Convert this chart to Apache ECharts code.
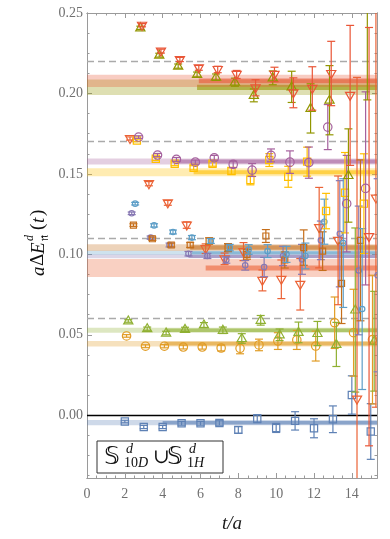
<!DOCTYPE html>
<html>
<head>
<meta charset="utf-8">
<script src="https://cdn.jsdelivr.net/npm/echarts@6/dist/echarts.min.js"></script>
<style>
  html, body { margin: 0; padding: 0; background: #fff; }
  #chart { width: 390px; height: 539px; }
</style>
</head>
<body>
<div id="chart"></div>
<script>
// time slices t/a
const tSlices = [2, 3, 4, 5, 6, 7, 8, 9, 10, 11, 12, 13, 14, 15];

// effective energies per level (null = not shown)
const val1  = [-0.0039, -0.0073, -0.0073, -0.0050, -0.0050, -0.0048, -0.0091, -0.0021, -0.0079, -0.0035, -0.0081, -0.0025, 0.0126, -0.0101];
const err1  = [0.0008, 0.0010, 0.0010, 0.0012, 0.0012, 0.0014, 0.0020, 0.0025, 0.0028, 0.0057, 0.0059, 0.0083, 0.0119, 0.0173];
const val2  = [0.0493, 0.0429, 0.0429, 0.0424, 0.0424, 0.0418, 0.0416, 0.0437, 0.0461, 0.0468, 0.0430, 0.0575, 0.0513, 0.0470];
const err2  = [0.0008, 0.0009, 0.0010, 0.0012, 0.0013, 0.0018, 0.0034, 0.0036, 0.0052, 0.0059, 0.0093, 0.0160, 0.0270, 0.0400];
const val3  = [0.0586, 0.0538, 0.0511, 0.0534, 0.0561, 0.0528, 0.0477, 0.0590, 0.0500, 0.0515, 0.0508, 0.0440, 0.0654, 0.0460];
const err3  = [0.0008, 0.0010, 0.0011, 0.0013, 0.0015, 0.0020, 0.0030, 0.0030, 0.0036, 0.0064, 0.0075, 0.0137, 0.0510, 0.0310];
const val4  = [0.1720, 0.1439, 0.1320, 0.1182, 0.1035, 0.0972, 0.1017, 0.0838, 0.0845, 0.0814, 0.1166, 0.1087, 0.0100, 0.1350];
const err4  = [0.0010, 0.0013, 0.0015, 0.0020, 0.0030, 0.0036, 0.0056, 0.0065, 0.0120, 0.0160, 0.0250, 0.0400, 0.2000, 0.1300];
const val5  = [0.1255, 0.1104, 0.1058, 0.1004, 0.0990, 0.0965, 0.0932, 0.0921, 0.0990, 0.0969, 0.1087, 0.1128, 0.0900, 0.0870];
const err5  = [0.0008, 0.0010, 0.0012, 0.0014, 0.0016, 0.0020, 0.0030, 0.0060, 0.0060, 0.0093, 0.0120, 0.0330, 0.0400, 0.0600];
const val6  = [0.1182, 0.1097, 0.1058, 0.1058, 0.1083, 0.1042, 0.1000, 0.1114, 0.0965, 0.1042, 0.1020, 0.0820, 0.1087, null];
const err6  = [0.0008, 0.0010, 0.0012, 0.0015, 0.0020, 0.0025, 0.0030, 0.0040, 0.0050, 0.0110, 0.0120, 0.0250, 0.0500, null];
const val7  = [0.1315, 0.1180, 0.1139, 0.1104, 0.1083, 0.1042, 0.1030, 0.1020, 0.1000, 0.0990, 0.1203, 0.1070, 0.0660, null];
const err7  = [0.0008, 0.0010, 0.0012, 0.0013, 0.0015, 0.0020, 0.0030, 0.0040, 0.0050, 0.0080, 0.0140, 0.0400, 0.0500, null];
const val8  = [0.1708, 0.1594, 0.1563, 0.1538, 0.1563, 0.1518, 0.1462, 0.1586, 0.1482, 0.1576, 0.1269, 0.1383, 0.1315, null];
const err8  = [0.0008, 0.0010, 0.0012, 0.0013, 0.0015, 0.0020, 0.0030, 0.0040, 0.0065, 0.0090, 0.0110, 0.0250, 0.0310, null];
const val9  = [0.1729, 0.1617, 0.1590, 0.1573, 0.1600, 0.1559, 0.1524, 0.1615, 0.1573, 0.1570, 0.1791, 0.1315, 0.1410, null];
const err9  = [0.0008, 0.0010, 0.0012, 0.0013, 0.0015, 0.0020, 0.0040, 0.0040, 0.0070, 0.0097, 0.0140, 0.0300, 0.0600, null];
const val10 = [0.2408, 0.2238, 0.2170, 0.2118, 0.2101, 0.2070, 0.1988, 0.2097, 0.2041, 0.1907, 0.1958, 0.1490, 0.2700, null];
const err10 = [0.0010, 0.0012, 0.0013, 0.0015, 0.0020, 0.0025, 0.0040, 0.0043, 0.0097, 0.0153, 0.0215, 0.0290, 0.0740, null];
const val11 = [0.2424, 0.2263, 0.2211, 0.2159, 0.2149, 0.2118, 0.2035, 0.2118, 0.2004, 0.2031, 0.2124, 0.1988, 0.1110, null];
const err11 = [0.0010, 0.0012, 0.0013, 0.0015, 0.0020, 0.0025, 0.0050, 0.0045, 0.0093, 0.0135, 0.0200, 0.0435, 0.1300, null];

// fit results: band centre, half width of the light band, half width of the dark band,
// and first time slice of the fit window
const bandMid  = [-0.0046, 0.0445, 0.0528, 0.0915, 0.0988, 0.1042, 0.1010, 0.1510, 0.1577, 0.2038, 0.2078];
const bandErr  = [0.0016, 0.0017, 0.0016, 0.0056, 0.0013, 0.0021, 0.0012, 0.0025, 0.0018, 0.0048, 0.0038];
const fitErr   = [0.0011, 0.0012, 0.0011, 0.0016, 0.0010, 0.0014, 0.0009, 0.0012, 0.0013, 0.0016, 0.0015];
const fitStart = [4, 4, 4, 6, 5, 5, 5, 5, 4, 5, 5];

// non-interacting thresholds (dashed)
const thresholds = [0.0561, 0.1118, 0.1658, 0.2191];

// tick labels
const xTickLabels = [0, 2, 4, 6, 8, 10, 12, 14];
const yTickLabels = [0, 0.05, 0.10, 0.15, 0.20, 0.25];

const values = [val1, val2, val3, val4, val5, val6, val7, val8, val9, val10, val11];
const errors = [err1, err2, err3, err4, err5, err6, err7, err8, err9, err10, err11];

const COLORS = ['#5E81B5', '#E19C24', '#8FB032', '#EB6235', '#8778B3', '#C56E1A',
                '#5D9EC7', '#FFBF00', '#A5609D', '#929600', '#E95536'];
const SHAPES = ['square', 'circle', 'up', 'down', 'dot', 'smallsquare', 'dot', 'square', 'circle', 'up', 'down'];
const X_SHIFT = 0.091;   // horizontal shift between levels
const X_MAX = 15.33, Y_MIN = -0.039, Y_MAX = 0.25;
const AXIS_GRAY = '#9a9a9a';
const SERIF = '"Liberation Serif", "DejaVu Serif", serif';

// minor ticks: every quarter of a major interval
function minorTicks(step, from, to) {
    const out = [];
    for (let v = from; v <= to + 1e-9; v += step / 4) out.push(Math.round(v * 1e5) / 1e5);
    return out;
}
const xMinor = minorTicks(2, 0, X_MAX);
const yMinor = minorTicks(0.05, -0.0375, Y_MAX);

function makeAxis(dim, position, ticks, len, withLabels) {
    const isX = dim === 'x';
    return {
        type: 'value',
        position: position,
        offset: 0,
        min: isX ? 0 : Y_MIN,
        max: isX ? X_MAX : Y_MAX,
        splitLine: { show: false },
        axisLine: { show: true, onZero: false, lineStyle: { color: AXIS_GRAY, width: 1 } },
        axisTick: { show: true, inside: true, length: len, customValues: ticks,
                    lineStyle: { color: AXIS_GRAY, width: 1 } },
        axisLabel: withLabels ? {
            show: true,
            customValues: ticks,
            margin: isX ? 9 : 4,
            color: '#707070',
            fontFamily: SERIF,
            fontSize: 14,
            formatter: isX ? (v => String(v)) : (v => v.toFixed(2))
        } : { show: false }
    };
}

const xAxes = [
    makeAxis('x', 'bottom', xTickLabels, 5, true),
    makeAxis('x', 'bottom', xMinor, 2.5, false),
    makeAxis('x', 'top', xTickLabels, 5, false),
    makeAxis('x', 'top', xMinor, 2.5, false)
];
Object.assign(xAxes[0], {
    name: 't/a',
    nameLocation: 'middle',
    nameGap: 36,
    nameTextStyle: { fontFamily: SERIF, fontStyle: 'italic', fontSize: 19, color: '#1a1a1a' }
});
const yAxes = [
    makeAxis('y', 'left', yTickLabels, 5, true),
    makeAxis('y', 'left', yMinor, 2.5, false),
    makeAxis('y', 'right', yTickLabels, 5, false),
    makeAxis('y', 'right', yMinor, 2.5, false)
];

function clipRect(params) {
    const cs = params.coordSys;
    return { type: 'rect', shape: { x: cs.x, y: cs.y, width: cs.width, height: cs.height } };
}

function markerShape(shape, c, style) {
    const [x, y] = c;
    switch (shape) {
        case 'square':
            return { type: 'rect', shape: { x: x - 3.6, y: y - 3.6, width: 7.2, height: 7.2 }, style };
        case 'smallsquare':
            return { type: 'rect', shape: { x: x - 3, y: y - 3, width: 6, height: 6 }, style };
        case 'circle':
            return { type: 'circle', shape: { cx: x, cy: y, r: 4.2 }, style };
        case 'dot':
            return { type: 'circle', shape: { cx: x, cy: y, r: 2.7 }, style };
        case 'up':
            return { type: 'polygon', shape: { points: [[x, y - 5], [x - 4.6, y + 3], [x + 4.6, y + 3]] }, style };
        default:
            return { type: 'polygon', shape: { points: [[x, y + 5], [x - 4.6, y - 3], [x + 4.6, y - 3]] }, style };
    }
}

// one custom series per level: error bar + open marker
function levelSeries(i) {
    const data = [];
    tSlices.forEach((t, k) => {
        if (values[i][k] !== null) data.push([t + i * X_SHIFT, values[i][k], errors[i][k]]);
    });
    return {
        type: 'custom',
        name: 'level' + i,
        z: 10 + i,
        encode: { x: 0, y: 1 },
        data: data,
        renderItem: function (params, api) {
            const x = api.value(0), y = api.value(1), e = api.value(2);
            const c = api.coord([x, y]);
            const hi = api.coord([x, y + e]);
            const lo = api.coord([x, y - e]);
            const style = { stroke: COLORS[i], lineWidth: 1.2, fill: 'none' };
            return {
                type: 'group',
                clipPath: clipRect(params),
                children: [
                    { type: 'line', shape: { x1: c[0], y1: hi[1], x2: c[0], y2: lo[1] }, style },
                    { type: 'line', shape: { x1: c[0] - 4, y1: hi[1], x2: c[0] + 4, y2: hi[1] }, style },
                    { type: 'line', shape: { x1: c[0] - 4, y1: lo[1], x2: c[0] + 4, y2: lo[1] }, style },
                    markerShape(SHAPES[i], c, style)
                ]
            };
        }
    };
}

// fit bands: light band over whole range, darker one over the fit window
const bandSeries = {
    type: 'custom',
    name: 'bands',
    z: 2,
    encode: { x: 3, y: 0 },
    data: bandMid.map((m, i) => [m, bandErr[i], fitErr[i], fitStart[i] + i * X_SHIFT, i]),
    renderItem: function (params, api) {
        const m = api.value(0), e = api.value(1), f = api.value(2), s = api.value(3), i = api.value(4);
        const a = api.coord([0, m + e]), b = api.coord([X_MAX, m - e]);
        const d0 = api.coord([s, m + f]), d1 = api.coord([X_MAX, m - f]);
        return {
            type: 'group',
            clipPath: clipRect(params),
            children: [
                { type: 'rect', shape: { x: a[0], y: a[1], width: b[0] - a[0], height: b[1] - a[1] },
                  style: { fill: COLORS[i], opacity: 0.3 } },
                { type: 'rect', shape: { x: d0[0], y: d0[1], width: d1[0] - d0[0], height: d1[1] - d0[1] },
                  style: { fill: COLORS[i], opacity: 0.6 } }
            ]
        };
    }
};

// reference lines: thresholds (dashed) and zero (solid black)
const refLines = {
    type: 'line',
    name: 'refs',
    z: 3,
    data: [],
    markLine: {
        silent: true,
        symbol: ['none', 'none'],
        label: { show: false },
        data: thresholds.map(v => ({ yAxis: v, lineStyle: { color: '#aaaaaa', type: [7, 4], width: 1.3 } }))
            .concat([{ yAxis: 0, lineStyle: { color: '#000', type: 'solid', width: 1.3 } }])
    }
};

function txt(s, x, y, size, italic) {
    return {
        type: 'text', x: x, y: y,
        style: {
            text: s,
            font: (italic ? 'italic ' : '') + size + 'px ' + SERIF,
            fill: '#111',
            align: 'left',
            verticalAlign: 'middle'
        }
    };
}

const DS = '"DejaVu Sans", "DejaVu Serif", "Noto Sans", serif';
function dsTxt(x, y) {
    return { type: 'text', x: x, y: y,
             style: { text: '\u{1D54A}', font: '25px ' + DS, fill: '#111', align: 'left', verticalAlign: 'middle' } };
}

const graphics = [
    // y axis title, rotated
    {
        type: 'group', x: 38.5, y: 276, rotation: Math.PI / 2,
        children: [
            txt('a', 0, 0, 19, true), txt('\u0394', 10, 0, 19, false), txt('E', 22, 0, 19, true),
            txt('d', 35, -9, 12, true), txt('\u{1D52B}', 35, 6, 12, false),
            txt('(', 46, 0, 19, false), txt('t', 53, 0, 19, true), txt(')', 60, 0, 19, false)
        ]
    },
    // label box
    {
        type: 'group', z: 100,
        children: [
            { type: 'rect', shape: { x: 97, y: 441, width: 126, height: 32 },
              style: { fill: '#fff', stroke: '#333', lineWidth: 1 } },
            dsTxt(104, 457),
            txt('d', 126, 449, 14, true), txt('10', 124, 463, 14, false), txt('D', 138, 463, 14, true),
            txt('\u222A', 153, 458, 20, false),
            dsTxt(167, 457),
            txt('d', 189, 449, 14, true), txt('1', 187, 463, 14, false), txt('H', 194, 463, 14, true)
        ]
    }
];

const chart = echarts.init(document.getElementById('chart'), null, { renderer: 'canvas' });
chart.setOption({
    animation: false,
    backgroundColor: '#fff',
    grid: { left: 87, right: 13, top: 13, bottom: 61 },
    xAxis: xAxes,
    yAxis: yAxes,
    series: [bandSeries, refLines].concat(values.map((_, i) => levelSeries(i))),
    graphic: graphics
});
</script>
</body>
</html>
